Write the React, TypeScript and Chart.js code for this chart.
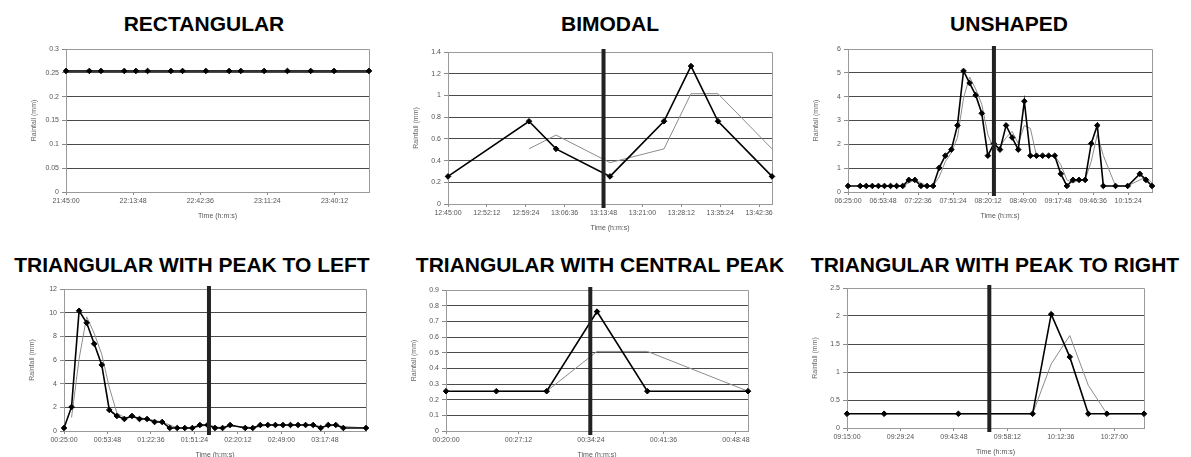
import React, { useEffect, useRef } from "react";
import { Chart, registerables } from "chart.js";

Chart.register(...registerables);

// ---------------- DATA ----------------
// RECTANGULAR
const RECT_TIMES = ["21:45:00", "21:55:00", "22:00:00", "22:10:00", "22:15:00", "22:20:00", "22:30:00", "22:35:00", "22:45:00", "22:55:00", "23:00:00", "23:10:00", "23:20:00", "23:30:00", "23:40:00", "23:55:00"];
const RECT_RAIN = [0.254, 0.254, 0.254, 0.254, 0.254, 0.254, 0.254, 0.254, 0.254, 0.254, 0.254, 0.254, 0.254, 0.254, 0.254, 0.254];
const RECT_AVG_TIMES = ["21:45:00", "21:55:00", "22:00:00", "22:10:00", "22:15:00", "22:20:00", "22:30:00", "22:35:00", "22:45:00", "22:55:00", "23:00:00", "23:10:00", "23:20:00", "23:30:00", "23:40:00", "23:55:00"];
const RECT_AVG = [0.254, 0.254, 0.254, 0.254, 0.254, 0.254, 0.254, 0.254, 0.254, 0.254, 0.254, 0.254, 0.254, 0.254, 0.254, 0.254];
const RECT_X_RANGE = ["21:45:00", "23:55:00"];
const RECT_X_TICKS = ["21:45:00", "22:13:48", "22:42:36", "23:11:24", "23:40:12"];
const RECT_Y_TICKS = ["0", "0.05", "0.1", "0.15", "0.2", "0.25", "0.3"];

// BIMODAL
const BIM_TIMES = ["12:45:00", "13:00:00", "13:05:00", "13:15:00", "13:25:00", "13:30:00", "13:35:00", "13:45:00"];
const BIM_RAIN = [0.254, 0.762, 0.508, 0.254, 0.762, 1.27, 0.762, 0.254];
const BIM_AVG_TIMES = ["13:00:00", "13:05:00", "13:15:00", "13:25:00", "13:30:00", "13:35:00", "13:45:00"];
const BIM_AVG = [0.508, 0.635, 0.381, 0.508, 1.016, 1.016, 0.508];
const BIM_X_RANGE = ["12:45:00", "13:45:00"];
const BIM_X_TICKS = ["12:45:00", "12:52:12", "12:59:24", "13:06:36", "13:13:48", "13:21:00", "13:28:12", "13:35:24", "13:42:36"];
const BIM_Y_TICKS = ["0", "0.2", "0.4", "0.6", "0.8", "1", "1.2", "1.4"];
const BIM_MARK = "13:13:48";

// UNSHAPED
const UNS_TIMES = ["06:25:00", "06:35:00", "06:40:00", "06:45:00", "06:50:00", "06:55:00", "07:00:00", "07:05:00", "07:10:00", "07:15:00", "07:20:00", "07:25:00", "07:30:00", "07:35:00", "07:40:00", "07:45:00", "07:50:00", "07:55:00", "08:00:00", "08:05:00", "08:10:00", "08:15:00", "08:20:00", "08:25:00", "08:30:00", "08:35:00", "08:40:00", "08:45:00", "08:50:00", "08:55:00", "09:00:00", "09:05:00", "09:10:00", "09:15:00", "09:20:00", "09:25:00", "09:30:00", "09:35:00", "09:40:00", "09:45:00", "09:50:00", "09:55:00", "10:05:00", "10:15:00", "10:25:00", "10:30:00", "10:35:00"];
const UNS_RAIN = [0.254, 0.254, 0.254, 0.254, 0.254, 0.254, 0.254, 0.254, 0.254, 0.508, 0.508, 0.254, 0.254, 0.254, 1.016, 1.524, 1.778, 2.794, 5.08, 4.572, 4.064, 3.302, 1.524, 2.032, 1.778, 2.794, 2.286, 1.778, 3.81, 1.524, 1.524, 1.524, 1.524, 1.524, 0.762, 0.254, 0.508, 0.508, 0.508, 2.032, 2.794, 0.254, 0.254, 0.254, 0.762, 0.508, 0.254];
const UNS_AVG_TIMES = ["06:35:00", "06:40:00", "06:45:00", "06:50:00", "06:55:00", "07:00:00", "07:05:00", "07:10:00", "07:15:00", "07:20:00", "07:25:00", "07:30:00", "07:35:00", "07:40:00", "07:45:00", "07:50:00", "07:55:00", "08:00:00", "08:05:00", "08:10:00", "08:15:00", "08:20:00", "08:25:00", "08:30:00", "08:35:00", "08:40:00", "08:45:00", "08:50:00", "08:55:00", "09:00:00", "09:05:00", "09:10:00", "09:15:00", "09:20:00", "09:25:00", "09:30:00", "09:35:00", "09:40:00", "09:45:00", "09:50:00", "09:55:00", "10:05:00", "10:15:00", "10:25:00", "10:30:00", "10:35:00"];
const UNS_AVG = [0.254, 0.254, 0.254, 0.254, 0.254, 0.254, 0.254, 0.254, 0.381, 0.508, 0.381, 0.254, 0.254, 0.635, 1.27, 1.651, 2.286, 3.937, 4.826, 4.318, 3.683, 2.413, 1.778, 1.905, 2.286, 2.54, 2.032, 2.794, 2.667, 1.524, 1.524, 1.524, 1.524, 1.143, 0.508, 0.381, 0.508, 0.508, 1.27, 2.413, 1.524, 0.254, 0.254, 0.508, 0.635, 0.381];
const UNS_X_RANGE = ["06:25:00", "10:35:00"];
const UNS_X_TICKS = ["06:25:00", "06:53:48", "07:22:36", "07:51:24", "08:20:12", "08:49:00", "09:17:48", "09:46:36", "10:15:24"];
const UNS_Y_TICKS = ["0", "1", "2", "3", "4", "5", "6"];
const UNS_MARK = "08:25:00";

// TRIANGULAR WITH PEAK TO LEFT
const LEFT_TIMES = ["00:25:00", "00:30:00", "00:35:00", "00:40:00", "00:45:00", "00:50:00", "00:55:00", "01:00:00", "01:05:00", "01:10:00", "01:15:00", "01:20:00", "01:25:00", "01:30:00", "01:35:00", "01:40:00", "01:45:00", "01:50:00", "01:55:00", "02:00:00", "02:05:00", "02:10:00", "02:15:00", "02:25:00", "02:30:00", "02:35:00", "02:40:00", "02:45:00", "02:50:00", "02:55:00", "03:00:00", "03:05:00", "03:10:00", "03:15:00", "03:20:00", "03:25:00", "03:30:00", "03:45:00"];
const LEFT_RAIN = [0.254, 2.032, 10.16, 9.144, 7.366, 5.588, 1.778, 1.27, 1.016, 1.27, 1.016, 1.016, 0.762, 0.762, 0.254, 0.254, 0.254, 0.254, 0.508, 0.508, 0.254, 0.254, 0.508, 0.254, 0.254, 0.508, 0.508, 0.508, 0.508, 0.508, 0.508, 0.508, 0.508, 0.254, 0.508, 0.508, 0.254, 0.254];
const LEFT_AVG_TIMES = ["00:30:00", "00:35:00", "00:40:00", "00:45:00", "00:50:00", "00:55:00", "01:00:00", "01:05:00", "01:10:00", "01:15:00", "01:20:00", "01:25:00", "01:30:00", "01:35:00", "01:40:00", "01:45:00", "01:50:00", "01:55:00", "02:00:00", "02:05:00", "02:10:00", "02:15:00", "02:25:00", "02:30:00", "02:35:00", "02:40:00", "02:45:00", "02:50:00", "02:55:00", "03:00:00", "03:05:00", "03:10:00", "03:15:00", "03:20:00", "03:25:00", "03:30:00", "03:45:00"];
const LEFT_AVG = [1.143, 6.096, 9.652, 8.255, 6.477, 3.683, 1.524, 1.143, 1.143, 1.143, 1.016, 0.889, 0.762, 0.508, 0.254, 0.254, 0.254, 0.381, 0.508, 0.381, 0.254, 0.381, 0.381, 0.254, 0.381, 0.508, 0.508, 0.508, 0.508, 0.508, 0.508, 0.508, 0.381, 0.381, 0.508, 0.381, 0.254];
const LEFT_X_RANGE = ["00:25:00", "03:45:00"];
const LEFT_X_TICKS = ["00:25:00", "00:53:48", "01:22:36", "01:51:24", "02:20:12", "02:49:00", "03:17:48"];
const LEFT_Y_TICKS = ["0", "2", "4", "6", "8", "10", "12"];
const LEFT_MARK = "02:01:00";

// TRIANGULAR WITH CENTRAL PEAK
const CEN_TIMES = ["00:20:00", "00:25:00", "00:30:00", "00:35:00", "00:40:00", "00:50:00"];
const CEN_RAIN = [0.254, 0.254, 0.254, 0.762, 0.254, 0.254];
const CEN_AVG_TIMES = ["00:25:00", "00:30:00", "00:35:00", "00:40:00", "00:50:00"];
const CEN_AVG = [0.254, 0.254, 0.508, 0.508, 0.254];
const CEN_X_RANGE = ["00:20:00", "00:50:00"];
const CEN_X_TICKS = ["00:20:00", "00:27:12", "00:34:24", "00:41:36", "00:48:48"];
const CEN_Y_TICKS = ["0", "0.1", "0.2", "0.3", "0.4", "0.5", "0.6", "0.7", "0.8", "0.9"];
const CEN_MARK = "00:34:20";

// TRIANGULAR WITH PEAK TO RIGHT
const RIGHT_TIMES = ["09:15:00", "09:25:00", "09:45:00", "10:05:00", "10:10:00", "10:15:00", "10:20:00", "10:25:00", "10:35:00"];
const RIGHT_RAIN = [0.254, 0.254, 0.254, 0.254, 2.032, 1.27, 0.254, 0.254, 0.254];
const RIGHT_AVG_TIMES = ["09:25:00", "09:45:00", "10:05:00", "10:10:00", "10:15:00", "10:20:00", "10:25:00", "10:35:00"];
const RIGHT_AVG = [0.254, 0.254, 0.254, 1.143, 1.651, 0.762, 0.254, 0.254];
const RIGHT_X_RANGE = ["09:15:00", "10:35:00"];
const RIGHT_X_TICKS = ["09:15:00", "09:29:24", "09:43:48", "09:58:12", "10:12:36", "10:27:00"];
const RIGHT_Y_TICKS = ["0", "0.5", "1", "1.5", "2", "2.5"];
const RIGHT_MARK = "09:53:20";

// ---------------- LAYOUT ----------------
const toSec = (s: string) => {
  const [h, m, x] = s.split(":").map(Number);
  return h * 3600 + m * 60 + x;
};

type PanelCfg = {
  title: string;
  tx: number;
  ty: number;
  l: number;
  t: number;
  r: number;
  b: number;
  times: string[];
  rain: number[];
  avgTimes: string[];
  avg: number[];
  xRange: string[];
  xTicks: string[];
  yTicks: string[];
  mark: string | null;
};

const PANELS: PanelCfg[] = [
  { title: "RECTANGULAR", tx: 204, ty: 13, l: 66, t: 49, r: 369, b: 192, times: RECT_TIMES, rain: RECT_RAIN, avgTimes: RECT_AVG_TIMES, avg: RECT_AVG, xRange: RECT_X_RANGE, xTicks: RECT_X_TICKS, yTicks: RECT_Y_TICKS, mark: null },
  { title: "BIMODAL", tx: 610, ty: 13, l: 448, t: 52, r: 772, b: 204, times: BIM_TIMES, rain: BIM_RAIN, avgTimes: BIM_AVG_TIMES, avg: BIM_AVG, xRange: BIM_X_RANGE, xTicks: BIM_X_TICKS, yTicks: BIM_Y_TICKS, mark: BIM_MARK },
  { title: "UNSHAPED", tx: 1009, ty: 13, l: 848, t: 49, r: 1152, b: 192, times: UNS_TIMES, rain: UNS_RAIN, avgTimes: UNS_AVG_TIMES, avg: UNS_AVG, xRange: UNS_X_RANGE, xTicks: UNS_X_TICKS, yTicks: UNS_Y_TICKS, mark: UNS_MARK },
  { title: "TRIANGULAR WITH PEAK TO LEFT", tx: 192, ty: 254, l: 64, t: 289, r: 366, b: 431, times: LEFT_TIMES, rain: LEFT_RAIN, avgTimes: LEFT_AVG_TIMES, avg: LEFT_AVG, xRange: LEFT_X_RANGE, xTicks: LEFT_X_TICKS, yTicks: LEFT_Y_TICKS, mark: LEFT_MARK },
  { title: "TRIANGULAR WITH CENTRAL PEAK", tx: 600, ty: 254, l: 446, t: 290, r: 748, b: 431, times: CEN_TIMES, rain: CEN_RAIN, avgTimes: CEN_AVG_TIMES, avg: CEN_AVG, xRange: CEN_X_RANGE, xTicks: CEN_X_TICKS, yTicks: CEN_Y_TICKS, mark: CEN_MARK },
  { title: "TRIANGULAR WITH PEAK TO RIGHT", tx: 995, ty: 254, l: 847, t: 288, r: 1144, b: 428, times: RIGHT_TIMES, rain: RIGHT_RAIN, avgTimes: RIGHT_AVG_TIMES, avg: RIGHT_AVG, xRange: RIGHT_X_RANGE, xTicks: RIGHT_X_TICKS, yTicks: RIGHT_Y_TICKS, mark: RIGHT_MARK },
];

const WY = 50;
const TP = 12;
const RP = 24;
const HX = 30;
const FONT = "'Liberation Sans', Arial, sans-serif";

function Panel({ cfg }: { cfg: PanelCfg }) {
  const ref = useRef<HTMLCanvasElement | null>(null);
  const w = WY + (cfg.r - cfg.l) + RP;
  const h = TP + (cfg.b - cfg.t) + HX;

  useEffect(() => {
    if (!ref.current) return;
    const xTickVals = cfg.xTicks.map(toSec);
    const yTickVals = cfg.yTicks.map(Number);
    const yMax = yTickVals[yTickVals.length - 1];
    const markX = cfg.mark ? toSec(cfg.mark) : null;

    const framePlugin = {
      id: "frame",
      beforeDatasetsDraw(chart: any) {
        const { ctx, chartArea: a } = chart;
        ctx.save();
        ctx.strokeStyle = "#9a9a9a";
        ctx.lineWidth = 1;
        ctx.beginPath();
        ctx.moveTo(Math.round(a.left) + 0.5, Math.round(a.top) + 0.5);
        ctx.lineTo(Math.round(a.right) + 0.5, Math.round(a.top) + 0.5);
        ctx.lineTo(Math.round(a.right) + 0.5, Math.round(a.bottom) + 0.5);
        ctx.stroke();
        ctx.restore();
      },
      afterDatasetsDraw(chart: any) {
        if (markX === null) return;
        const { ctx, chartArea: a, scales } = chart;
        const px = scales.x.getPixelForValue(markX);
        ctx.save();
        ctx.fillStyle = "#222222";
        ctx.fillRect(px - 2, a.top - 3, 4, a.bottom - a.top + 7);
        ctx.restore();
      },
    };

    const chart = new Chart(ref.current, {
      type: "line",
      data: {
        datasets: [
          {
            data: cfg.times.map((t, i) => ({ x: toSec(t), y: cfg.rain[i] })),
            borderColor: "#000000",
            borderWidth: 1.6,
            pointStyle: "rectRot",
            pointRadius: 2.8,
            pointBackgroundColor: "#000000",
            pointBorderColor: "#000000",
            pointBorderWidth: 1,
            tension: 0,
            clip: false,
          },
          {
            data: cfg.avgTimes.map((t, i) => ({ x: toSec(t), y: cfg.avg[i] })),
            borderColor: "#8c8c8c",
            borderWidth: 1,
            pointRadius: 0,
            tension: 0,
            clip: false,
          },
        ],
      },
      options: {
        responsive: false,
        animation: false,
        events: [],
        layout: { padding: { top: TP, right: RP, left: 0, bottom: 0 } },
        plugins: { legend: { display: false }, title: { display: false }, tooltip: { enabled: false } },
        scales: {
          x: {
            type: "linear",
            min: toSec(cfg.xRange[0]),
            max: toSec(cfg.xRange[1]),
            afterBuildTicks: (s: any) => {
              s.ticks = xTickVals.map((v) => ({ value: v }));
            },
            afterFit: (s: any) => {
              s.height = HX;
            },
            grid: { drawOnChartArea: false, drawTicks: true, tickLength: 3, tickColor: "#8a8a8a" },
            border: { display: true, color: "#9a9a9a" },
            ticks: {
              autoSkip: false,
              maxRotation: 0,
              minRotation: 0,
              padding: 2,
              color: "#555555",
              font: { family: FONT, size: 7 },
              callback: (_v: any, i: number) => cfg.xTicks[i],
            },
            title: {
              display: true,
              text: "Time (h:m:s)",
              color: "#555555",
              font: { family: FONT, size: 7 },
              padding: { top: 0, bottom: 1.8 },
            },
          },
          y: {
            type: "linear",
            min: 0,
            max: yMax,
            afterBuildTicks: (s: any) => {
              s.ticks = yTickVals.map((v) => ({ value: v }));
            },
            afterFit: (s: any) => {
              s.width = WY;
            },
            grid: {
              color: (c: any) => (c.tick && (c.tick.value === 0 || c.tick.value === yMax) ? "rgba(0,0,0,0)" : "#4a4a4a"),
              tickColor: "#8a8a8a",
              tickLength: 4,
              lineWidth: 1,
            },
            border: { display: true, color: "#9a9a9a" },
            ticks: {
              autoSkip: false,
              padding: 3,
              color: "#555555",
              font: { family: FONT, size: 7 },
              callback: (_v: any, i: number) => cfg.yTicks[i],
            },
            title: {
              display: true,
              text: "Rainfall (mm)",
              color: "#666666",
              font: { family: FONT, size: 7 },
              padding: { top: 13.8, bottom: 0 },
            },
          },
        },
      } as any,
      plugins: [framePlugin],
    });
    return () => chart.destroy();
  }, []);

  return (
    <>
      <div
        style={{
          position: "absolute",
          left: cfg.tx - 250,
          top: cfg.ty,
          width: 500,
          textAlign: "center",
          font: `bold 21px ${FONT}`,
          lineHeight: "21px",
          color: "#000",
          whiteSpace: "nowrap",
        }}
      >
        {cfg.title}
      </div>
      <canvas
        ref={ref}
        width={w}
        height={h}
        style={{ position: "absolute", left: cfg.l - WY, top: cfg.t - TP, width: w, height: h }}
      />
    </>
  );
}

export default function App() {
  return (
    <div
      style={{
        position: "absolute",
        left: 0,
        top: 0,
        width: 1191,
        height: 457,
        overflow: "hidden",
        background: "#ffffff",
      }}
    >
      {PANELS.map((p, i) => (
        <Panel key={i} cfg={p} />
      ))}
    </div>
  );
}
